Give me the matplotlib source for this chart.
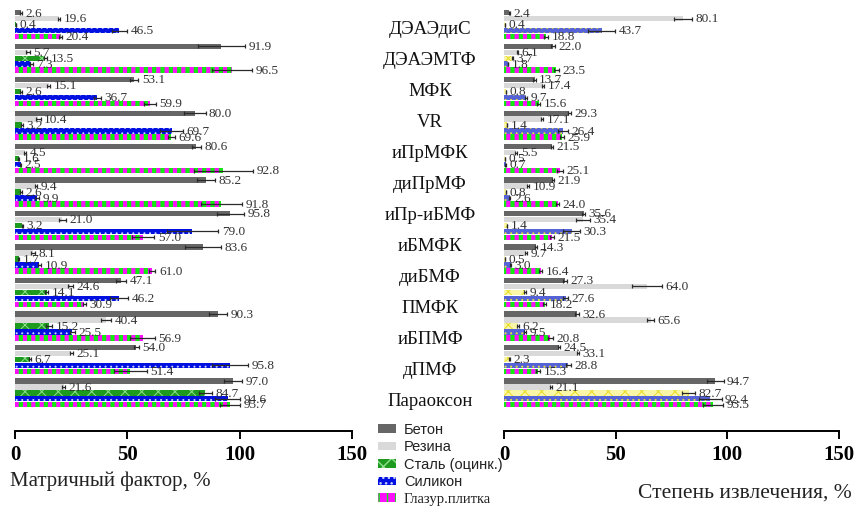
import numpy as np
import matplotlib
matplotlib.use("Agg")
import matplotlib.pyplot as plt
from matplotlib.patches import Patch

categories = ['ДЭАЭдиС', 'ДЭАЭМТФ', 'МФК', 'VR', 'иПрМФК', 'диПрМФ', 'иПр-иБМФ',
              'иБМФК', 'диБМФ', 'ПМФК', 'иБПМФ', 'дПМФ', 'Параоксон']
series = ['Бетон', 'Резина', 'Сталь (оцинк.)', 'Силикон', 'Глазур.плитка']

# Matrix factor, %
beton_mf = [2.6, 91.9, 53.1, 80.0, 80.6, 85.2, 95.8, 83.6, 47.1, 90.3, 54.0, 97.0]
rezina_mf = [19.6, 5.7, 15.1, 10.4, 4.5, 9.4, 21.0, 8.1, 24.6, 40.4, 25.1, 21.6]
stal_mf = [0.4, 13.5, 2.6, 3.2, 1.6, 2.6, 3.2, 1.7, 14.1, 15.2, 6.7, 84.7]
silikon_mf = [46.5, 7.3, 36.7, 69.7, 2.5, 9.9, 79.0, 10.9, 46.2, 25.5, 95.8, 94.6]
plitka_mf = [20.4, 96.5, 59.9, 69.6, 92.8, 91.8, 57.0, 61.0, 30.9, 56.9, 51.4, 95.7]

beton_mf_err = [0.3, 10.5, 1.8, 4.8, 2.0, 4.0, 6.0, 8.0, 2.3, 4.0, 1.0, 4.0]
rezina_mf_err = [0.6, 1.0, 0.7, 1.0, 0.5, 0.6, 1.5, 0.8, 1.0, 2.3, 0.8, 0.6]
stal_mf_err = [0.1, 0.8, 0.3, 0.4, 0.2, 0.3, 0.3, 0.2, 0.6, 1.3, 0.5, 3.0]
silikon_mf_err = [3.3, 0.5, 1.5, 5.0, 0.3, 0.8, 11.5, 0.8, 4.0, 1.0, 8.0, 5.5]
plitka_mf_err = [0.6, 9.0, 2.7, 1.5, 13.0, 9.2, 5.0, 1.5, 0.6, 5.5, 7.2, 4.6]

# Recovery, %
beton_re = [2.4, 22.0, 13.7, 29.3, 21.5, 21.9, 35.6, 14.3, 27.3, 32.6, 24.5, 94.7]
rezina_re = [80.1, 6.1, 17.4, 17.1, 5.5, 10.9, 35.4, 9.7, 64.0, 65.6, 33.1, 21.1]
stal_re = [0.4, 3.7, 0.8, 1.4, 0.5, 0.8, 1.4, 0.5, 9.4, 6.2, 2.3, 82.7]
silikon_re = [43.7, 1.8, 9.7, 26.4, 0.7, 2.6, 30.3, 3.0, 27.6, 9.5, 28.8, 92.4]
plitka_re = [18.8, 23.5, 15.6, 25.9, 25.1, 24.0, 21.5, 16.4, 18.2, 20.8, 15.3, 93.5]

beton_re_err = [0.2, 0.8, 0.5, 0.8, 0.5, 0.5, 0.8, 0.5, 0.8, 0.8, 0.5, 3.6]
rezina_re_err = [4.2, 0.3, 0.5, 0.5, 0.5, 0.5, 3.0, 0.5, 6.7, 1.5, 0.5, 0.5]
stal_re_err = [0.1, 0.3, 0.1, 0.1, 0.1, 0.1, 0.1, 0.1, 0.5, 0.5, 0.2, 3.0]
silikon_re_err = [6.0, 0.2, 0.5, 2.4, 0.1, 0.3, 3.7, 0.3, 1.0, 0.5, 1.0, 5.0]
plitka_re_err = [1.0, 1.0, 0.7, 0.8, 1.3, 0.7, 0.8, 0.6, 0.8, 1.0, 0.8, 4.5]

x_ticks = [0, 50, 100, 150]

SERIF = 'Liberation Serif'
SANS = 'Liberation Sans'

styles_left = [
    dict(facecolor='#666666', hatch=None, hc='#666666', hlw=1.0),
    dict(facecolor='#d9d9d9', hatch=None, hc='#d9d9d9', hlw=1.0),
    dict(facecolor='#1e9a1e', hatch='xx', hc='#8fe08f', hlw=0.7),
    dict(facecolor='#0010e0', hatch='...', hc='#c8d0ff', hlw=0.7),
    dict(facecolor='#ff10ff', hatch='||', hc='#10ee10', hlw=3.0),
]
styles_right = [
    dict(facecolor='#666666', hatch=None, hc='#666666', hlw=1.0),
    dict(facecolor='#d9d9d9', hatch=None, hc='#d9d9d9', hlw=1.0),
    dict(facecolor='#faf6a8', hatch='xx', hc='#e8dc20', hlw=0.7),
    dict(facecolor='#5563d6', hatch='...', hc='#e8e040', hlw=0.7),
    dict(facecolor='#ff10ff', hatch='||', hc='#10ee10', hlw=3.0),
]

fig = plt.figure(figsize=(8.57, 5.07), dpi=100)
H = 507.0
W = 857.0
bottom = 1 - 431 / H
top = 1 - 8 / H
ax1 = fig.add_axes([15 / W, bottom, 337 / W, top - bottom])
ax2 = fig.add_axes([504 / W, bottom, 335 / W, top - bottom])

ngroups = len(beton_mf)
g = np.arange(ngroups)
pitch = 0.178
bh = 0.16


def draw(ax, vals, errs, styles):
    for j, (v, e, st) in enumerate(zip(vals, errs, styles)):
        y = g + (j - 2) * pitch
        rc = {'hatch.linewidth': st['hlw']} if st['hatch'] else {}
        with plt.rc_context(rc):
            bars = ax.barh(y, v, height=bh, color=st['facecolor'],
                           edgecolor=st['hc'], linewidth=0, hatch=st['hatch'],
                           zorder=2)
        for b in bars:
            if hasattr(b, 'set_hatch_linewidth'):
                b.set_hatch_linewidth(st['hlw'])
        ax.errorbar(v, y, xerr=e, fmt='none', ecolor='#2a2a2a', elinewidth=0.9,
                    capsize=1.2, capthick=0.9, zorder=3)
        for vi, ei, yi in zip(v, e, y):
            ax.annotate(f'{vi:.1f}', xy=(vi + ei, yi), xytext=(2.5, -0.5),
                        textcoords='offset points', ha='left', va='center',
                        fontsize=9.5, family=SERIF, color='#333333', zorder=4)
    ax.set_xlim(0, 150)
    ax.set_ylim(12.14, -0.50)
    for s in ['top', 'right', 'left']:
        ax.spines[s].set_visible(False)
    ax.spines['bottom'].set_linewidth(1.4)
    ax.set_yticks([])
    ax.set_xticks(x_ticks)
    ax.set_xticklabels([str(t) for t in x_ticks], fontsize=15,
                       family=SERIF, fontweight='bold')
    ax.tick_params(axis='x', direction='out', length=6, width=1.4, pad=4)
    ax.patch.set_visible(False)


draw(ax1, [beton_mf, rezina_mf, stal_mf, silikon_mf, plitka_mf],
     [beton_mf_err, rezina_mf_err, stal_mf_err, silikon_mf_err, plitka_mf_err],
     styles_left)
draw(ax2, [beton_re, rezina_re, stal_re, silikon_re, plitka_re],
     [beton_re_err, rezina_re_err, stal_re_err, silikon_re_err, plitka_re_err],
     styles_right)

# category labels in the middle
for k, name in enumerate(categories):
    ypix = 30 + 30.92 * k
    fig.text(430 / W, 1 - ypix / H, name, ha='center', va='center',
             fontsize=13.5, family=SERIF, color='#111111')

fig.text(10 / W, 1 - 481 / H, 'Матричный фактор, %', ha='left', va='center',
         fontsize=15, family=SERIF, color='#222222')
fig.text(852 / W, 1 - 493 / H, 'Степень извлечения, %', ha='right', va='center',
         fontsize=15.5, family=SERIF, color='#222222')

handles = []
for st in styles_left:
    with plt.rc_context({'hatch.linewidth': st['hlw']}):
        p = Patch(facecolor=st['facecolor'], edgecolor=st['hc'], linewidth=0,
                  hatch=st['hatch'])
    if hasattr(p, 'set_hatch_linewidth'):
        p.set_hatch_linewidth(st['hlw'])
    handles.append(p)
leg = fig.legend(handles, series, loc='upper left',
                 bbox_to_anchor=(369 / W, 1 - 414 / H), frameon=False,
                 prop={'family': SANS, 'size': 10.5}, handlelength=1.25,
                 handleheight=0.5, labelspacing=0.24, handletextpad=0.55,
                 borderpad=0.1)
leg.get_texts()[-1].set_family(SERIF)
for t in leg.get_texts():
    t.set_color('#222222')

fig.savefig('out.png', dpi=100)
